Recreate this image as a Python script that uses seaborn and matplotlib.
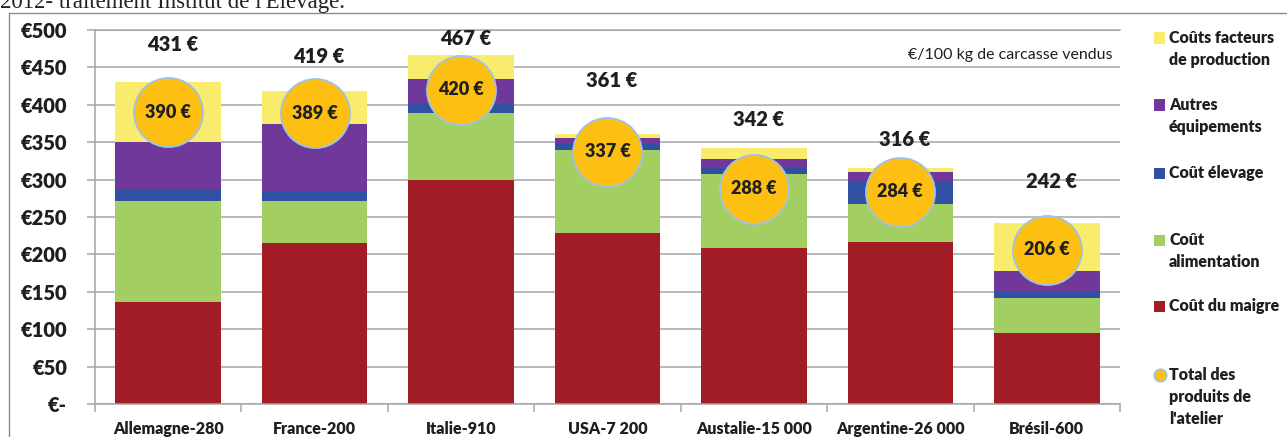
import numpy as np
import matplotlib
matplotlib.use("Agg")
import matplotlib.pyplot as plt
import seaborn as sns
from matplotlib.patches import Rectangle
from matplotlib.lines import Line2D

# data (€ / 100 kg carcasse)
countries = ["Allemagne-280", "France-200", "Italie-910", "USA-7 200",
             "Austalie-15 000", "Argentine-26 000", "Brésil-600"]
cout_maigre = [136, 215, 300, 228, 209, 216, 95]
cout_alimentation = [135, 56, 89, 111, 99, 51, 47]
cout_elevage = [16, 12, 12, 9, 8, 31, 8]
autres_equipements = [63, 92, 33, 7, 11, 12, 28]
couts_facteurs = [81, 44, 33, 6, 15, 6, 64]
totals = [431, 419, 467, 361, 342, 316, 242]
total_produits = [390, 389, 420, 337, 288, 284, 206]

# where the total labels sit (manually placed in the original)
total_label_y = [480, 464, 488, 432, 380, 354, 298]

W, H = 1287, 437
TXT = "#1F1F1F"
GRID = "#A6A6A6"
BOLD = "heavy"

sns.set_theme(style="white")
plt.rcParams["font.family"] = ["Lato", "DejaVu Sans"]

fig = plt.figure(figsize=(W / 100, H / 100), dpi=100)
ax = fig.add_axes([95 / W, 1 - 404 / H, (1120 - 95) / W, (404 - 30) / H])

layers = [
    ("Coût du maigre", cout_maigre, "#A21C25"),
    ("Coût alimentation", cout_alimentation, "#A3CF62"),
    ("Coût élevage", cout_elevage, "#2F50A3"),
    ("Autres équipements", autres_equipements, "#70389A"),
    ("Coûts facteurs de production", couts_facteurs, "#F9EC6C"),
]

# stacked bars: draw cumulative heights from the top layer down
cum = np.cumsum([np.array(v) for _, v, _ in layers], axis=0)
for k in range(len(layers) - 1, -1, -1):
    sns.barplot(x=countries, y=cum[k], color=layers[k][2], width=0.72,
                saturation=1, errorbar=None, edgecolor="none", linewidth=0,
                ax=ax, zorder=2)

# circles for "Total des produits de l'atelier"
sns.scatterplot(x=np.arange(len(countries)), y=total_produits, s=2470,
                color="#FDBF12", edgecolor="#9DC3E6", linewidth=1.3,
                ax=ax, zorder=5, legend=False)
for i, v in enumerate(total_produits):
    ax.text(i, v, f"{v} €", ha="center", va="center", fontsize=13,
            fontweight=BOLD, color=TXT, zorder=6)

for i, v in enumerate(totals):
    ax.text(i + 0.03, total_label_y[i], f"{v} €", ha="center", va="center",
            fontsize=14.5, fontweight=BOLD, color=TXT, zorder=6)

ax.set_xlim(-0.5, len(countries) - 0.5)
ax.set_ylim(0, 500)
ax.set_xlabel("")
ax.set_ylabel("")

yt = list(range(0, 501, 50))
ax.set_yticks(yt)
ax.set_yticklabels(["€-"] + [f"€{v}" for v in yt[1:]], fontsize=14.5,
                   fontweight=BOLD, color=TXT)
ax.set_xticks(range(len(countries)))
ax.set_xticklabels(countries, fontsize=11.5, fontweight=BOLD, color=TXT)
ax.set_xticks(np.arange(-0.5, len(countries), 1), minor=True)

ax.tick_params(axis="y", left=True, length=6, width=1.1, color=GRID,
               direction="out", pad=14)
ax.tick_params(axis="x", which="major", bottom=True, length=0, pad=12)
ax.tick_params(axis="x", which="minor", bottom=True, length=6, width=1.1,
               color=GRID, direction="out")

ax.yaxis.grid(True, color=GRID, linewidth=1.1)
ax.set_axisbelow(True)
for side in ["left", "bottom", "top"]:
    ax.spines[side].set_visible(True)
    ax.spines[side].set_color(GRID)
    ax.spines[side].set_linewidth(1.1)
ax.spines["right"].set_visible(False)

fig.text(1112 / W, 1 - 55 / H, "€/100 kg de carcasse vendus", ha="right",
         va="center", fontsize=11.5, color=TXT)

# hand-built legend on the right
legend_items = [
    (["Coûts facteurs", "de production"], 38, "#F9EC6C"),
    (["Autres", "équipements"], 105, "#70389A"),
    (["Coût élevage"], 173, "#2F50A3"),
    (["Coût", "alimentation"], 240, "#A3CF62"),
    (["Coût du maigre"], 306, "#A21C25"),
]
for lines, y0, col in legend_items:
    fig.add_artist(Rectangle((1154 / W, 1 - (y0 + 5.5) / H), 11 / W, 11 / H,
                             transform=fig.transFigure, color=col, lw=0))
    for j, line in enumerate(lines):
        fig.text(1169 / W, 1 - (y0 + 22 * j) / H, line, ha="left", va="center",
                 fontsize=11.5, fontweight=BOLD, color=TXT)

fig.add_artist(Line2D([1160 / W], [1 - 375 / H], marker="o", markersize=9,
                      markerfacecolor="#FDBF12", markeredgecolor="#9DC3E6",
                      markeredgewidth=1.2, transform=fig.transFigure))
for j, line in enumerate(["Total des", "produits de", "l'atelier"]):
    fig.text(1169 / W, 1 - (375 + 22 * j) / H, line, ha="left", va="center",
             fontsize=11.5, fontweight=BOLD, color=TXT)

# frame of the original figure and the cut caption above it
fig.add_artist(Line2D([9 / W, 9 / W], [0, 1 - 13 / H], color="#8C8C8C",
                      lw=1, transform=fig.transFigure))
fig.add_artist(Line2D([9 / W, 1], [1 - 13 / H, 1 - 13 / H], color="#8C8C8C",
                      lw=1, transform=fig.transFigure))
fig.text(0.0, 1 - 8 / H, "2012- traitement Institut de l'Elevage.",
         family=["Liberation Serif", "DejaVu Serif"], fontsize=16.5,
         va="baseline", ha="left", color="#222222")

fig.savefig("out.png", dpi=100)
